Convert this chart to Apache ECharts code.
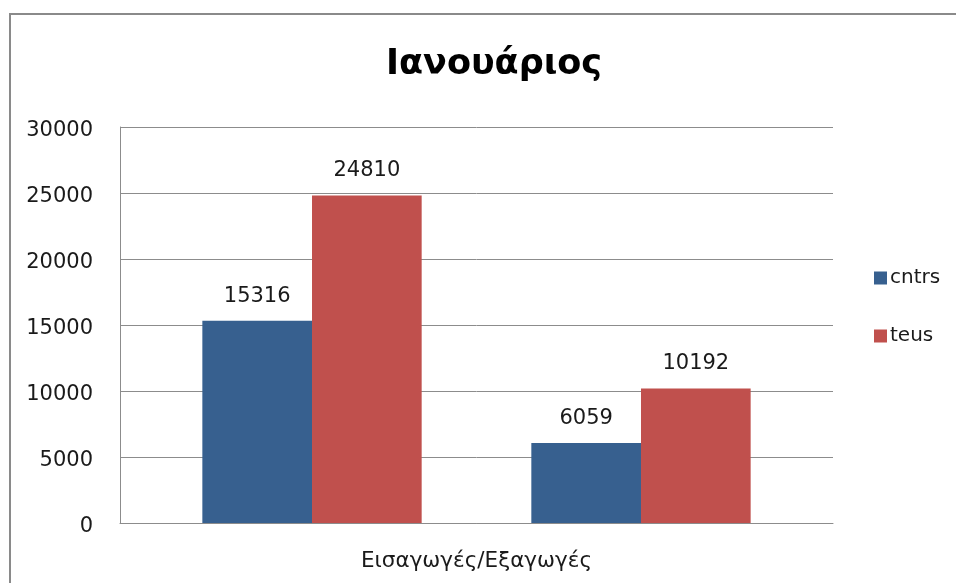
<!DOCTYPE html>
<html>
<head>
<meta charset="utf-8">
<script src="https://cdn.jsdelivr.net/npm/echarts@6/dist/echarts.min.js"></script>
<style>html,body{margin:0;padding:0;background:#fff}#c{width:956px;height:583px}</style>
</head>
<body>
<div id="c"></div>
<script>
const titleText = 'Ιανουάριος';
const category = ['Εισαγωγές/Εξαγωγές'];
const seriesNames = ['cntrs', 'teus'];
// group 1 (left) and group 2 (right)
const cntrs = [15316, 6059];
const teus = [24810, 10192];
const yTicks = [0, 5000, 10000, 15000, 20000, 25000, 30000];

const FONT = 'DejaVu Sans';
const colors = { cntrs: '#37608f', teus: '#c0504d' };
const label = { show: true, position: 'top', distance: 14, fontSize: 21, fontFamily: FONT, color: '#1a1a1a' };

function barSeries(name, value) {
  return { type: 'bar', name: name, data: [value], itemStyle: { color: colors[name] }, label: label, silent: true };
}
const series = [
  barSeries('cntrs', cntrs[0]),
  barSeries('teus', teus[0]),
  { type: 'bar', name: 'gap', data: ['-'], silent: true },
  barSeries('cntrs', cntrs[1]),
  barSeries('teus', teus[1])
];
series[4].barGap = '0%';
series[4].barCategoryGap = '23.1%';

const chart = echarts.init(document.getElementById('c'), null, { renderer: 'canvas' });
chart.setOption({
  animation: false,
  backgroundColor: '#fff',
  graphic: [{ type: 'rect', shape: { x: 10, y: 14, width: 1000, height: 1000 }, style: { fill: 'none', stroke: '#8a8a8a', lineWidth: 2 }, silent: true }],
  title: { text: titleText, left: 381, top: 42, textStyle: { fontFamily: FONT, fontSize: 35, fontWeight: 'bold', color: '#000' } },
  legend: {
    data: seriesNames, orient: 'vertical', left: 869, top: 263, itemWidth: 13, itemHeight: 13, itemGap: 38,
    icon: 'rect', textStyle: { fontFamily: FONT, fontSize: 20, color: '#1a1a1a', padding: [0, 0, 0, -2] }
  },
  grid: { left: 120, right: 123, top: 127, bottom: 60, containLabel: false },
  xAxis: {
    type: 'category', data: category,
    axisLine: { lineStyle: { color: '#8c8c8c', width: 1 } },
    axisTick: { show: false },
    axisLabel: { fontFamily: FONT, fontSize: 21.5, color: '#1a1a1a', margin: 27 }
  },
  yAxis: {
    type: 'value', min: yTicks[0], max: yTicks[yTicks.length - 1], interval: yTicks[1] - yTicks[0],
    axisLine: { show: true, lineStyle: { color: '#8c8c8c' } },
    axisTick: { show: false },
    splitLine: { lineStyle: { color: '#8c8c8c' } },
    axisLabel: {
      margin: 27, formatter: v => '{a|' + v + '}',
      rich: { a: { fontFamily: FONT, fontSize: 21, color: '#1a1a1a', padding: [8, 0, 0, 0] } }
    }
  },
  series: series
});
</script>
</body>
</html>
